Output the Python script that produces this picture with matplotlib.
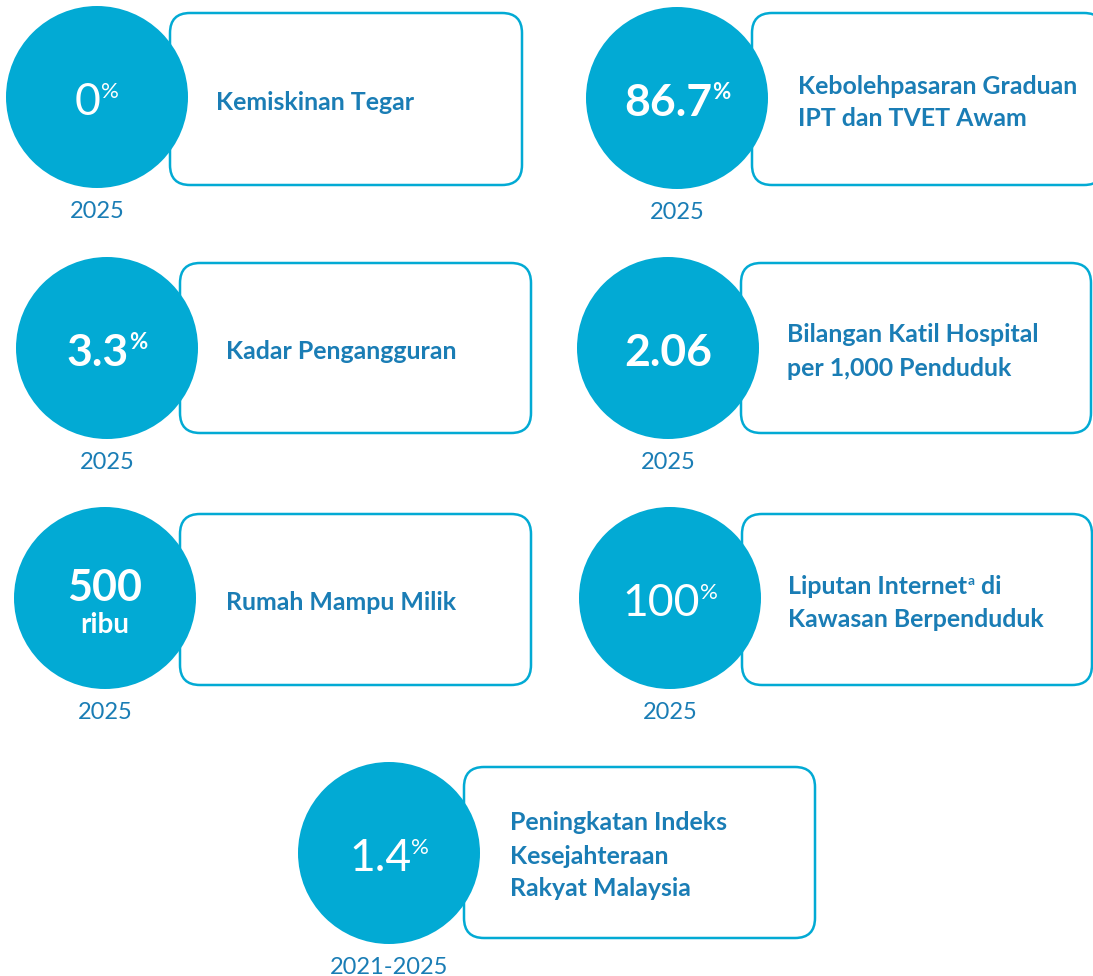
import matplotlib
matplotlib.use("Agg")
import matplotlib.pyplot as plt
from matplotlib.patches import Circle, FancyBboxPatch

plt.rcParams['font.family'] = ['Lato', 'DejaVu Sans']

# indicator values and texts
values = ['0', '86.7', '3.3', '2.06', '500', '100', '1.4']
units = ['%', '%', '%', '', 'ribu', '%', '%']
labels = [
    ['Kemiskinan Tegar'],
    ['Kebolehpasaran Graduan', 'IPT dan TVET Awam'],
    ['Kadar Pengangguran'],
    ['Bilangan Katil Hospital', 'per 1,000 Penduduk'],
    ['Rumah Mampu Milik'],
    ['Liputan Internet|a| di', 'Kawasan Berpenduduk'],
    ['Peningkatan Indeks', 'Kesejahteraan', 'Rakyat Malaysia'],
]
years = ['2025', '2025', '2025', '2025', '2025', '2025', '2021-2025']

# layout (pixels, y down)
centers = [(97, 97), (677, 98), (107, 348), (668, 348), (105, 598), (670, 598), (389, 853)]
boxes = [(170, 13, 522, 185), (752, 13, 1104, 185), (180, 263, 531, 433),
         (741, 263, 1091, 433), (180, 514, 531, 685), (742, 514, 1092, 685),
         (464, 767, 815, 938)]
num_weight = ['normal', 'bold', 'bold', 'bold', 'bold', 'normal', 'normal']

CIRCLE = '#02AAD4'
TEXT = '#1A7DB5'
R = 91
W, H = 1093, 976

fig = plt.figure(figsize=(W / 100, H / 100), dpi=100)
ax = fig.add_axes([0, 0, 1, 1])
ax.set_xlim(0, W)
ax.set_ylim(H, 0)
ax.axis('off')
renderer = fig.canvas.get_renderer()


def text_width(t):
  bb = t.get_window_extent(renderer)
  return bb.width


for i in range(len(values)):
  cx, cy = centers[i]
  x0, y0, x1, y1 = boxes[i]
  ax.add_patch(FancyBboxPatch((x0, y0), x1 - x0, y1 - y0,
                              boxstyle="round,pad=0,rounding_size=20",
                              fc='white', ec=CIRCLE, lw=1.8, zorder=1))
  ax.add_patch(Circle((cx, cy), R, fc=CIRCLE, ec='none', zorder=2))

  # big number
  if units[i] == 'ribu':
    ax.text(cx, cy + 3, values[i], color='white', fontsize=31, weight=num_weight[i],
            ha='center', va='baseline', zorder=3)
    ax.text(cx, cy + 35, units[i], color='white', fontsize=20, weight='bold',
            ha='center', va='baseline', zorder=3)
  else:
    base = cy + 18
    num = ax.text(0, base, values[i], color='white', fontsize=32, weight=num_weight[i],
                  ha='left', va='baseline', zorder=3)
    sup_w = 0
    if units[i]:
      sup = ax.text(0, base - 17, units[i], color='white', fontsize=16,
                    weight=num_weight[i], ha='left', va='baseline', zorder=3)
      sup_w = text_width(sup)
    nw = text_width(num)
    left = cx - (nw + sup_w) / 2
    num.set_x(left)
    if units[i]:
      sup.set_x(left + nw)

  # label lines
  n = len(labels[i])
  for j, line in enumerate(labels[i]):
    ly = (y0 + y1) / 2 + (j - (n - 1) / 2) * 33 + 11
    parts = line.split('|')
    x = x0 + 46
    for k, part in enumerate(parts):
      if k % 2 == 1:
        t = ax.text(x + 1, ly - 9, part, color=TEXT, fontsize=10, weight='bold',
                    ha='left', va='baseline', zorder=3)
        x = x + 1 + text_width(t)
      else:
        t = ax.text(x, ly, part, color=TEXT, fontsize=17.9, weight='bold',
                    ha='left', va='baseline', zorder=3)
        x = x + text_width(t)

  ax.text(cx, cy + 121, years[i], color=TEXT, fontsize=17,
          ha='center', va='baseline', zorder=3)

fig.savefig('out.png', dpi=100, facecolor='white')
